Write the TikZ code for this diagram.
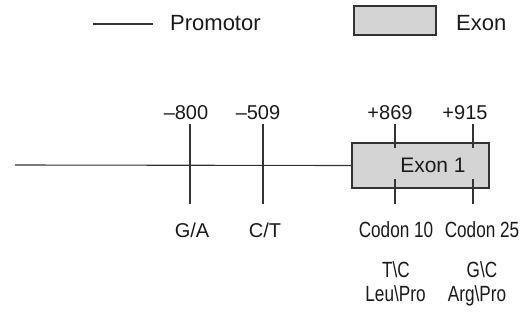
\documentclass[tikz,border=0pt]{standalone}
\usepackage{fontspec}
\setmainfont{Liberation Sans}
\newfontfamily\narrowfont[FakeStretch=0.78]{Liberation Sans}
\definecolor{ln}{HTML}{333333}
\definecolor{tx}{HTML}{1A1A1A}
\definecolor{exfill}{HTML}{D4D4D4}
\begin{document}
\begin{tikzpicture}[x=1pt,y=-1pt,
  lbl/.style={inner sep=0pt,anchor=base,text=tx,font=\fontsize{20}{24}\selectfont},
  nlbl/.style={inner sep=0pt,anchor=base,text=tx,font=\fontsize{22}{26}\selectfont\narrowfont},
  leg/.style={inner sep=0pt,anchor=base west,text=tx,font=\fontsize{22}{26}\selectfont},
  exbox/.style={draw=ln,line width=1.1pt,fill=exfill,inner sep=0pt},
  lin/.style={draw=ln,line width=1.1pt}]
\useasboundingbox (0,0) rectangle (528,322);
% legend
\coordinate (l1) at (93,24);
\coordinate (l2) at (153,24);
\draw[lin] (l1) -- (l2);
\node[leg] (promotor) at (170,30) {Promotor};
\node[exbox,minimum width=82pt,minimum height=29pt] (legbox) at (395,20.5) {};
\node[leg] (exonleg) at (456,30) {Exon};
% main line and exon
\node[exbox,minimum width=137pt,minimum height=45pt] (exon) at (420.5,165.5) {};
\coordinate (start) at (15,165);
\draw[lin] (start) -- (exon.west);
\node[lbl,font=\fontsize{21}{25}\selectfont] (exonlbl) at (433,172) {Exon 1};
% ticks
\draw[lin] (190,124) -- (190,204);
\draw[lin] (263,124) -- (263,204);
\draw[lin] (395,124) -- (395,148);
\draw[lin] (395,179) -- (395,204);
\draw[lin] (473,124) -- (473,148);
\draw[lin] (473,179) -- (473,204);
% position labels
\node[lbl] (p800) at (186,119) {–800};
\node[lbl] (p509) at (258,119) {–509};
\node[lbl] (p869) at (390,119) {+869};
\node[lbl] (p915) at (465,119) {+915};
% bottom labels
\node[lbl] (ga) at (192,237) {G/A};
\node[lbl] (ct) at (265,237) {C/T};
\node[nlbl] (c10) at (396,237) {Codon 10};
\node[nlbl] (c25) at (482,237) {Codon 25};
\node[nlbl] (tc) at (396,277) {T\textbackslash C};
\node[nlbl] (gc) at (482,277) {G\textbackslash C};
\node[nlbl] (lp) at (395.5,301) {Leu\textbackslash Pro};
\node[nlbl] (ap) at (477,301) {Arg\textbackslash Pro};
\end{tikzpicture}
\end{document}
